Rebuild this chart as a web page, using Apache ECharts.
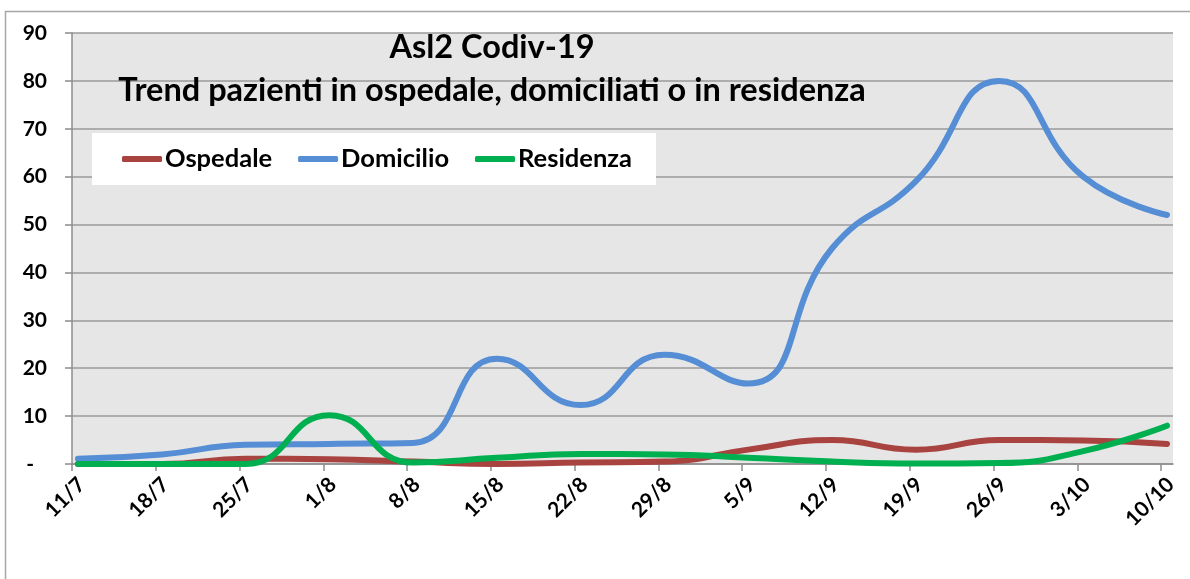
<!DOCTYPE html>
<html>
<head>
<meta charset="utf-8">
<script src="https://cdn.jsdelivr.net/npm/echarts@6/dist/echarts.min.js"></script>
<style>
  html, body { margin: 0; padding: 0; background: #fff; }
  #chart { width: 1190px; height: 579px; }
</style>
</head>
<body>
<div id="chart"></div>
<script>
// etichette settimanali dell'asse x
const dates = ['11/7', '18/7', '25/7', '1/8', '8/8', '15/8', '22/8', '29/8', '5/9', '12/9', '19/9', '26/9', '3/10', '10/10']
// valori
const ospedale  = [0, 0, 1.1, 1.0, 0.5, 0, 0.3, 0.5, 3.0, 5.0, 3.0, 5.0, 4.9, 4.2]
const domicilio = [1.1, 2.0, 4.0, 4.2, 4.4, 22.0, 12.3, 22.8, 16.8, 45.0, 59.0, 80.0, 60.0, 52.0]
const residenza = [0, 0, 0, 10.2, 0.3, 1.3, 2.1, 2.0, 1.3, 0.5, 0.1, 0.2, 2.7, 8.0]
const yTicks = [0, 10, 20, 30, 40, 50, 60, 70, 80, 90]

const WEEK = 7          // giorni fra due etichette
const DAY_CENTER = 0.5  // i punti stanno al centro del giorno (asse date di Excel)
const LABEL_SHIFT = 0.8 // spostamento etichette come in Excel
const FONT = 'Lato'

const toPoints = arr => arr.map((v, i) => [i * WEEK + DAY_CENTER, v])

const chart = echarts.init(document.getElementById('chart'), null, { renderer: 'canvas' })

const lineSerie = (name, data, color) => ({
  name, type: 'line', smooth: 0.5, showSymbol: false,
  data: toPoints(data),
  itemStyle: { color },
  lineStyle: { width: 6, cap: 'round', join: 'round' }
})

const option = {
  backgroundColor: '#ffffff',
  animation: false,
  title: {
    text: 'Asl2 Codiv-19\nTrend pazienti in ospedale, domiciliati o in residenza',
    left: 487,
    top: 21,
    textAlign: 'center',
    textStyle: { fontFamily: FONT, fontWeight: 'bold', fontSize: 32.5, lineHeight: 43, color: '#000' }
  },
  legend: {
    left: 92,
    top: 133,
    backgroundColor: '#ffffff',
    padding: [13, 24, 13, 30],
    itemGap: 26,
    itemWidth: 40,
    itemHeight: 6,
    icon: 'roundRect',
    textStyle: { fontFamily: FONT, fontWeight: 'bold', fontSize: 25.5, color: '#000', padding: [0, 0, 0, -2] },
    data: ['Ospedale', 'Domicilio', 'Residenza']
  },
  grid: {
    left: 72, top: 33, right: 17, bottom: 115,
    show: true, backgroundColor: '#e6e6e6', borderWidth: 0,
    containLabel: false
  },
  xAxis: {
    type: 'value',
    min: 0,
    max: (dates.length - 1) * WEEK + 1,
    axisLine: { show: true, lineStyle: { color: '#8c8c8c', width: 1.5 } },
    axisTick: {
      show: true, length: 7, lineStyle: { color: '#8c8c8c', width: 1.5 },
      customValues: dates.map((d, i) => i * WEEK)
    },
    splitLine: { show: false },
    axisLabel: {
      customValues: dates.map((d, i) => i * WEEK + LABEL_SHIFT),
      formatter: v => dates[Math.round((v - LABEL_SHIFT) / WEEK)],
      rotate: 45,
      margin: 17,
      fontFamily: FONT, fontWeight: 'bold', fontSize: 21, color: '#000'
    }
  },
  yAxis: {
    type: 'value',
    min: yTicks[0],
    max: yTicks[yTicks.length - 1],
    interval: 10,
    axisLine: { show: true, lineStyle: { color: '#8c8c8c', width: 1.5 } },
    axisTick: { show: true, length: 7, lineStyle: { color: '#8c8c8c', width: 1.5 } },
    splitLine: { show: true, lineStyle: { color: '#9a9a9a', width: 1.5 } },
    axisLabel: {
      margin: 25,
      fontFamily: FONT, fontWeight: 'bold', fontSize: 21, color: '#000',
      formatter: v => v === 0 ? '{d|-}' : String(v),
      rich: {
        d: { fontFamily: FONT, fontWeight: 'bold', fontSize: 21, color: '#000', padding: [0, 13, 0, 0] }
      }
    }
  },
  series: [
    lineSerie('Ospedale', ospedale, '#a84340'),
    lineSerie('Domicilio', domicilio, '#558ed5'),
    lineSerie('Residenza', residenza, '#00b050')
  ],
  graphic: [
    {
      type: 'rect',
      silent: true,
      shape: { x: 5.5, y: 11.5, width: 1200, height: 600 },
      style: { fill: 'none', stroke: '#a6a6a6', lineWidth: 1.5 }
    }
  ]
}

chart.setOption(option)
</script>
</body>
</html>
